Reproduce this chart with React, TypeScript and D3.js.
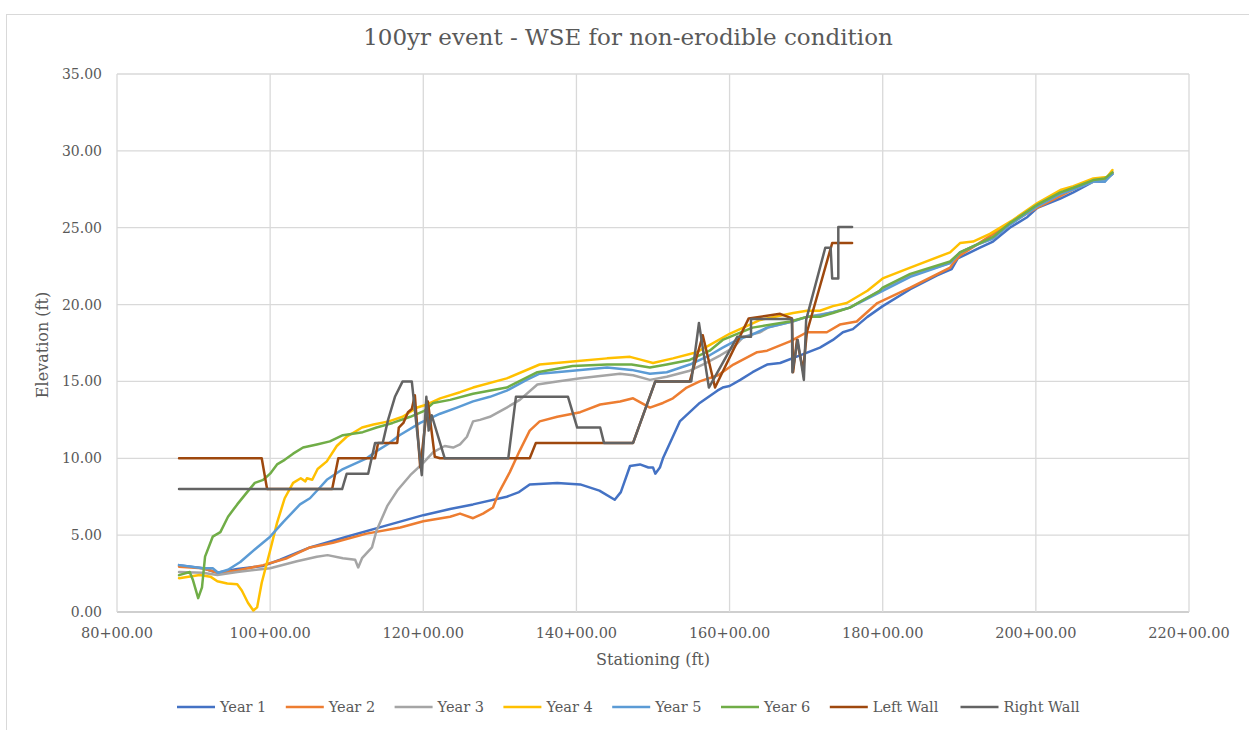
import React from "react";
import * as d3 from "d3";

type Pt = [number, number];

const xTicks = [80, 100, 120, 140, 160, 180, 200, 220];
const yTicks = [0, 5, 10, 15, 20, 25, 30, 35];

const year1: Pt[] = [
  [88.1, 3.05], [91.2, 2.85], [93.1, 2.55], [95.7, 2.8], [99.1, 3.0], [101.3, 3.4], [105.2, 4.2], [110, 4.9],
  [115, 5.6], [120, 6.3], [123.5, 6.7], [126.5, 7.0], [130.9, 7.5], [132.5, 7.8], [133.9, 8.3], [137.5, 8.4],
  [140.5, 8.3], [143, 7.9], [145, 7.3], [145.8, 7.8], [147.0, 9.5], [148.3, 9.6], [149.4, 9.4], [150.0, 9.4],
  [150.3, 9.0], [150.9, 9.4], [151.3, 10.0], [152.5, 11.3], [153.5, 12.4], [156.1, 13.6], [158.4, 14.4],
  [159.1, 14.6], [160, 14.7], [161.4, 15.1], [163, 15.6], [164.9, 16.1], [166.6, 16.2], [169.2, 16.7],
  [171.8, 17.2], [173.5, 17.7], [174.8, 18.2], [176.1, 18.4], [178, 19.2], [180, 19.9], [183.6, 21.0],
  [187.1, 21.9], [189.0, 22.3], [189.8, 23.0], [192.7, 23.7], [194.4, 24.1], [196.6, 25.0], [198.9, 25.7],
  [200.2, 26.3], [203.2, 26.9], [204.9, 27.3], [207.5, 28.0], [209.0, 28.0], [209.4, 28.3], [210.0, 28.5],
];

const year2: Pt[] = [
  [88.1, 2.95], [91.2, 2.85], [93.2, 2.55], [95.7, 2.7], [99.1, 3.05], [102.2, 3.5], [105.2, 4.2], [108.2, 4.5],
  [112.6, 5.1], [117, 5.5], [120, 5.9], [123.5, 6.2], [124.8, 6.4], [126.5, 6.1], [127.8, 6.4], [129.1, 6.8],
  [129.8, 7.7], [131.3, 9.1], [132.6, 10.5], [133.9, 11.8], [135.2, 12.4], [137.5, 12.7], [140.5, 13.0],
  [143.1, 13.5], [145.7, 13.7], [147.4, 13.9], [149.6, 13.3], [151.3, 13.6], [152.6, 13.9], [154.4, 14.6],
  [156.1, 15.0], [158.5, 15.4], [160.5, 16.1], [163.6, 16.9], [164.9, 17.0], [167.9, 17.6], [170.1, 18.2],
  [172.7, 18.2], [174.4, 18.7], [176.6, 18.9], [179.3, 20.1], [183.6, 21.1], [188.8, 22.4], [189.2, 22.7],
  [190.1, 23.2], [192.3, 23.9], [196.6, 25.3], [200.2, 26.3], [204.9, 27.5], [207.5, 28.1], [209.0, 28.1],
  [210.0, 28.6],
];

const year3: Pt[] = [
  [88.1, 2.6], [91.2, 2.55], [93.1, 2.4], [95.7, 2.6], [100, 2.85], [103.5, 3.3], [106.1, 3.6], [107.5, 3.7],
  [109.5, 3.5], [111.1, 3.4], [111.5, 2.9], [112, 3.5], [113.3, 4.2], [113.9, 5.3], [115.3, 6.9], [116.6, 7.9],
  [118.3, 8.9], [120, 9.7], [121.3, 10.4], [122.8, 10.8], [123.9, 10.7], [124.8, 10.9], [125.7, 11.4],
  [126.5, 12.4], [127.4, 12.5], [128.7, 12.7], [130.9, 13.3], [132.6, 13.8], [134.9, 14.8], [137.5, 15.0],
  [140.5, 15.2], [145.7, 15.5], [147.4, 15.4], [149.6, 15.1], [151.8, 15.3], [154.8, 15.7], [156.5, 16.1],
  [158.8, 16.7], [160.5, 17.2], [161.8, 17.9], [164, 18.2], [165, 18.5], [168.2, 18.9], [170.1, 19.2],
  [173.5, 19.5], [175.7, 19.8], [179.6, 20.9], [183.6, 21.9], [188.8, 22.7], [190.1, 23.4], [192.3, 23.9],
  [194.4, 24.3], [196.6, 25.2], [200.2, 26.4], [203.2, 27.2], [204.9, 27.5], [207.5, 28.0], [209.0, 28.1],
  [210, 28.5],
];

const year4: Pt[] = [
  [88.1, 2.2], [90.8, 2.4], [92.2, 2.3], [93.1, 2.0], [94.4, 1.85], [95.7, 1.8], [96.3, 1.4], [97.1, 0.6],
  [97.8, 0.1], [98.3, 0.3], [98.9, 1.9], [100, 4.0], [100.9, 5.8], [101.9, 7.4], [103, 8.4], [104, 8.7],
  [104.6, 8.5], [104.8, 8.7], [105.5, 8.6], [106.2, 9.3], [107.4, 9.8], [108.7, 10.8], [110, 11.4], [112, 12.0],
  [113.5, 12.2], [115.5, 12.4], [117.3, 12.7], [119.2, 13.3], [120.5, 13.5], [122.2, 13.9], [124.8, 14.3],
  [126.5, 14.6], [130.9, 15.2], [135.2, 16.1], [139.5, 16.3], [144, 16.5], [147, 16.6], [148.5, 16.4],
  [150, 16.2], [152.6, 16.5], [155.7, 16.9], [157.5, 17.4], [160, 18.1], [161.8, 18.5], [164, 19.0],
  [168.3, 19.45], [170.1, 19.6], [171.8, 19.6], [173.5, 19.9], [175.3, 20.1], [178, 20.9], [180, 21.7],
  [183.6, 22.4], [188.8, 23.4], [190.1, 24.0], [191.8, 24.1], [194, 24.6], [197, 25.5], [200.2, 26.6],
  [203.2, 27.45], [204.9, 27.7], [207.5, 28.2], [209.3, 28.3], [210, 28.75],
];

const year5: Pt[] = [
  [88.1, 3.05], [91.2, 2.85], [92.5, 2.85], [93.2, 2.55], [94.5, 2.75], [96.1, 3.25], [98.3, 4.2], [100, 4.9],
  [101.7, 5.85], [103.9, 7.0], [105.2, 7.4], [106.5, 8.1], [107.4, 8.6], [109.5, 9.3], [112.6, 10.0],
  [114, 10.5], [115.3, 10.9], [116.9, 11.5], [119.6, 12.3], [122.2, 12.9], [124.4, 13.3], [126.5, 13.7],
  [128.7, 14.0], [130.9, 14.4], [133.5, 15.1], [135.2, 15.5], [139.5, 15.7], [144, 15.9], [147.2, 15.75],
  [149.6, 15.5], [151.8, 15.6], [154.8, 16.1], [157.4, 16.7], [159.1, 17.2], [161, 17.7], [162.7, 18.0],
  [164.9, 18.5], [168.2, 18.9], [170.1, 19.2], [171.8, 19.3], [173.5, 19.5], [175.7, 19.8], [179.6, 20.8],
  [183.6, 21.8], [188.8, 22.7], [190.1, 23.4], [192.3, 23.9], [194.4, 24.3], [196.6, 25.2], [200.2, 26.4],
  [203.2, 27.2], [204.9, 27.5], [207.5, 28.0], [209.0, 28.0], [210, 28.5],
];

const year6: Pt[] = [
  [88.1, 2.4], [89.5, 2.6], [89.9, 2.1], [90.6, 0.9], [91.1, 1.6], [91.5, 3.6], [92.5, 4.9], [93.5, 5.2],
  [94.5, 6.2], [95.7, 7.0], [97, 7.8], [98, 8.4], [99.1, 8.6], [100, 9.0], [100.9, 9.6], [101.9, 9.9],
  [103, 10.3], [104.3, 10.7], [106.1, 10.9], [107.8, 11.1], [109.5, 11.5], [112.1, 11.7], [113.9, 12.0],
  [116, 12.3], [118.3, 12.7], [120.2, 13.1], [121.3, 13.6], [123.5, 13.8], [126.5, 14.2], [130.9, 14.6],
  [134.9, 15.6], [139.5, 16.0], [144, 16.1], [147.2, 16.1], [149.6, 15.9], [151.8, 16.1], [154.8, 16.4],
  [157.4, 17.0], [159.1, 17.7], [161, 18.1], [163, 18.5], [167.9, 18.9], [170.1, 19.2], [171.8, 19.2],
  [173.5, 19.45], [175.7, 19.8], [179.6, 20.9], [180, 21.1], [183.6, 22.0], [188.8, 22.8], [190.1, 23.4],
  [192.3, 23.9], [194.4, 24.4], [196.6, 25.3], [200.2, 26.5], [203.2, 27.3], [204.9, 27.6], [207.5, 28.1],
  [209.0, 28.2], [210, 28.6],
];

const leftWall: Pt[] = [
  [88.1, 10], [98.9, 10], [99.6, 8], [108.1, 8], [108.9, 10], [113.7, 10], [114.1, 11], [116.6, 11],
  [116.8, 12.0], [117.4, 12.3], [118.0, 13.0], [118.5, 13.2], [118.9, 14.1], [119.6, 9.4], [120.6, 13.7],
  [121.5, 10.1], [122.2, 10], [133.9, 10], [134.7, 11], [147.4, 11], [150.3, 15], [154.8, 15], [156.5, 18.0],
  [158.1, 14.6], [162.5, 19.1], [166.6, 19.4], [168.15, 19.1], [168.3, 15.6], [168.8, 17.7], [169.6, 15.7],
  [170.1, 18.2], [173.4, 24.0], [176.0, 24.0],
];

const rightWall: Pt[] = [
  [88.1, 8], [109.4, 8], [110.0, 9], [112.8, 9], [113.7, 11], [114.7, 11], [115.4, 12.5], [116.3, 14],
  [117.3, 15], [118.5, 15], [119.8, 8.9], [120.4, 14], [120.7, 11.8], [121.1, 12.8], [122.8, 10], [131.1, 10],
  [132.1, 14], [138.9, 14], [140.1, 12], [143.1, 12], [143.6, 11], [147.4, 11], [150.3, 15], [155.0, 15],
  [156.0, 18.8], [157.3, 14.6], [161.0, 17.9], [162.8, 17.9], [162.8, 19.06], [168.15, 19.06], [168.2, 15.6],
  [168.9, 17.7], [169.7, 15.1], [170.0, 19.0], [172.5, 23.7], [173.2, 23.7], [173.4, 21.7], [174.2, 21.7],
  [174.2, 25.05], [176.0, 25.05],
];

const seriesNames = ["Year 1", "Year 2", "Year 3", "Year 4", "Year 5", "Year 6", "Left Wall", "Right Wall"];
const seriesData = [year1, year2, year3, year4, year5, year6, leftWall, rightWall];
const seriesColors = ["#4472C4", "#ED7D31", "#A5A5A5", "#FFC000", "#5B9BD5", "#70AD47", "#9E480E", "#636363"];

const FONT = "'DejaVu Serif', Georgia, serif";
const TXT = "#595959";

export default function App() {
  const W = 1249, H = 730;
  const x = d3.scaleLinear().domain([80, 220]).range([117, 1189]);
  const y = d3.scaleLinear().domain([0, 35]).range([612, 74]);
  const line = d3.line<Pt>().x((d) => x(d[0])).y((d) => y(d[1]));

  const legendY = 707;
  let cursor = 177;
  const legendItems = seriesNames.map((name, i) => {
    const item = { name, color: seriesColors[i], x: cursor };
    cursor += 38 + 5 + name.length * 7.3 + 22;
    return item;
  });

  return (
    <div style={{ position: "fixed", left: 0, top: 0, width: W, height: H, background: "#fff" }}>
      <svg width={W} height={H} style={{ display: "block" }}>
        <rect x={0} y={0} width={W} height={H} fill="#fff" />
        <rect x={6.5} y={14.5} width={W} height={H} fill="none" stroke="#D9D9D9" strokeWidth={1} />
        <text x={628} y={37} textAnchor="middle" dominantBaseline="central" fontFamily={FONT} fontSize={23} fill={TXT}>
          100yr event - WSE for non-erodible condition
        </text>
        {yTicks.map((t) => (
          <line key={"gy" + t} x1={x(80)} x2={x(220)} y1={y(t)} y2={y(t)} stroke={t === 0 ? "#BFBFBF" : "#D9D9D9"} strokeWidth={1.3} />
        ))}
        {xTicks.map((t) => (
          <line key={"gx" + t} x1={x(t)} x2={x(t)} y1={y(0)} y2={y(35)} stroke="#D9D9D9" strokeWidth={1.3} />
        ))}
        {yTicks.map((t) => (
          <text key={"ty" + t} x={102} y={y(t)} textAnchor="end" dominantBaseline="central" fontFamily={FONT} fontSize={14} fill={TXT}>
            {t.toFixed(2)}
          </text>
        ))}
        {xTicks.map((t) => (
          <text key={"tx" + t} x={x(t)} y={633} textAnchor="middle" dominantBaseline="central" fontFamily={FONT} fontSize={14.5} fill={TXT}>
            {`${t}+00.00`}
          </text>
        ))}
        <text x={653} y={659} textAnchor="middle" dominantBaseline="central" fontFamily={FONT} fontSize={16} fill={TXT}>
          Stationing (ft)
        </text>
        <text transform={`translate(42,345) rotate(-90)`} textAnchor="middle" dominantBaseline="central" fontFamily={FONT} fontSize={16} fill={TXT}>
          Elevation (ft)
        </text>
        {seriesData.map((d, i) => (
          <path key={"s" + i} d={line(d) || ""} fill="none" stroke={seriesColors[i]} strokeWidth={2.5} strokeLinejoin="round" strokeLinecap="round" />
        ))}
        {legendItems.map((it) => (
          <g key={"lg" + it.name}>
            <line x1={it.x} x2={it.x + 38} y1={legendY} y2={legendY} stroke={it.color} strokeWidth={2.5} />
            <text x={it.x + 43} y={legendY} dominantBaseline="central" fontFamily={FONT} fontSize={14.5} fill={TXT}>
              {it.name}
            </text>
          </g>
        ))}
      </svg>
    </div>
  );
}
